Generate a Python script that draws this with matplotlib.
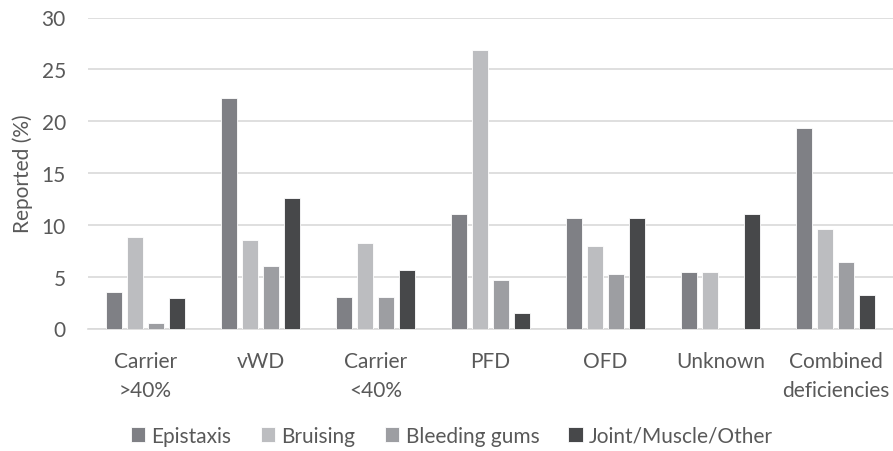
import numpy as np
import matplotlib.pyplot as plt

# data
categories = ["Carrier\n>40%", "vWD", "Carrier\n<40%", "PFD", "OFD", "Unknown", "Combined\ndeficiencies"]
series_names = ["Epistaxis", "Bruising", "Bleeding gums", "Joint/Muscle/Other"]
epistaxis = [3.5, 22.2, 3.05, 11.0, 10.7, 5.45, 19.3]
bruising = [8.8, 8.5, 8.2, 26.9, 8.0, 5.45, 9.6]
bleeding_gums = [0.5, 6.0, 3.05, 4.65, 5.3, 0.0, 6.4]
joint_other = [2.9, 12.6, 5.6, 1.5, 10.7, 11.0, 3.2]
colors = ["#7f8085", "#bcbdc0", "#9d9ea2", "#47484a"]

plt.rcParams['font.family'] = ['Lato', 'DejaVu Sans']
text_col = "#595959"
fs = 15

fig = plt.figure(figsize=(8.93, 4.52), dpi=100)
ax = fig.add_axes([88 / 893, 1 - 329.5 / 452, 805 / 893, 311 / 452])

x = np.arange(len(categories))
step = 0.183
width = 0.145
all_series = [epistaxis, bruising, bleeding_gums, joint_other]
for i, (vals, name, c) in enumerate(zip(all_series, series_names, colors)):
    ax.bar(x + (i - 1.5) * step, vals, width, color=c, label=name,
           edgecolor="white", linewidth=0.6, zorder=3)

ax.set_xlim(-0.5, len(categories) - 0.5)
ax.set_ylim(0, 30)
ax.set_yticks(range(0, 31, 5))
ax.yaxis.grid(True, color="#d9d9d9", linewidth=1.2, zorder=0)
for s in ["top", "right", "left"]:
    ax.spines[s].set_visible(False)
ax.spines["bottom"].set_color("#d9d9d9")
ax.spines["bottom"].set_linewidth(1.2)
ax.tick_params(axis="both", length=0, labelsize=fs, colors=text_col)
ax.tick_params(axis="x", pad=16)
ax.tick_params(axis="y", pad=16)
ax.set_xticks(x)
ax.set_xticklabels(categories, linespacing=1.55)
ax.set_ylabel("Reported (%)", fontsize=fs, color=text_col, labelpad=6)

fig.legend(loc="center", bbox_to_anchor=(452 / 893, 1 - 437 / 452), ncol=4,
           frameon=False, fontsize=fs, labelcolor=text_col,
           handlelength=0.7, handleheight=0.7, handletextpad=0.3, columnspacing=1.4)

fig.savefig("out.png", dpi=100)
